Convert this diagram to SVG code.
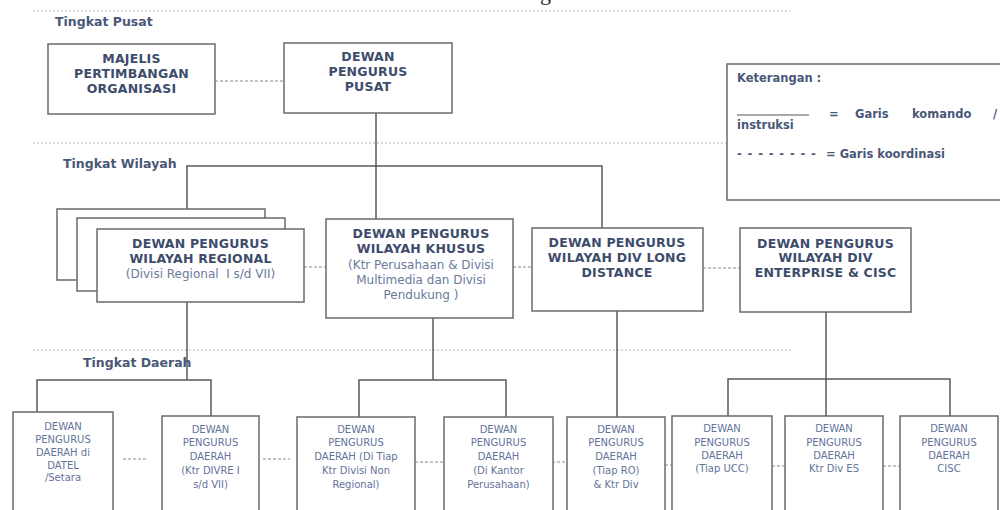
<svg xmlns="http://www.w3.org/2000/svg" width="1000" height="510" viewBox="0 0 1000 510">
<style>
.bg{fill:#ffffff}
.box{fill:#ffffff;stroke:#6a6a6a;stroke-width:1.5}
.sep{fill:none;stroke:#b4b4b4;stroke-width:1;stroke-dasharray:2 2}
.cmd{fill:none;stroke:#5a5a5a;stroke-width:1.5}
.crd{fill:none;stroke:#8a8a8a;stroke-width:1.2;stroke-dasharray:3 2}
.h{font-family:"DejaVu Sans",Verdana,sans-serif;font-weight:bold;font-size:12.5px;fill:#3e4c6c;text-anchor:middle;letter-spacing:0.2px}
.lvl{font-family:"DejaVu Sans",Verdana,sans-serif;font-weight:bold;font-size:12.5px;fill:#4a5878}
.r{font-family:"DejaVu Sans",Verdana,sans-serif;font-size:12px;fill:#6b7a9c;text-anchor:middle}
.s{font-family:"DejaVu Sans",Verdana,sans-serif;font-size:10px;fill:#63739a;text-anchor:middle}
.lg{font-family:"DejaVu Sans",Verdana,sans-serif;font-weight:bold;font-size:11.5px;fill:#4a5878}
</style>
<rect class="bg" x="0" y="0" width="1000" height="510"/>
<text x="540" y="0" font-family="Liberation Serif,serif" font-size="22" fill="#222">g</text>

<g id="separators">
<line class="sep" x1="33" y1="11" x2="790" y2="11"/>
<line class="sep" x1="33" y1="143" x2="727" y2="143"/>
<line class="sep" x1="33" y1="350" x2="792" y2="350"/>
</g>
<g id="level-labels">
<text class="lvl" x="55" y="26">Tingkat Pusat</text>
<text class="lvl" x="63" y="168">Tingkat Wilayah</text>
<text class="lvl" x="83" y="367">Tingkat Daerah</text>
</g>

<g id="connectors">
<line class="crd" x1="215" y1="81" x2="284" y2="81"/>
<polyline class="cmd" points="376,113 376,219"/>
<polyline class="cmd" points="187,209 187,166 602,166 602,228"/>
<line class="cmd" x1="187" y1="302" x2="187" y2="380"/>
<polyline class="cmd" points="37,412 37,380 211,380 211,416"/>
<line class="cmd" x1="433" y1="318" x2="433" y2="380"/>
<polyline class="cmd" points="359,417 359,380 506,380 506,417"/>
<line class="cmd" x1="617" y1="311" x2="617" y2="417"/>
<line class="cmd" x1="826" y1="312" x2="826" y2="416"/>
<polyline class="cmd" points="728,416 728,379 950,379 950,416"/>
<line class="crd" x1="304" y1="267" x2="326" y2="267"/>
<line class="crd" x1="513" y1="267" x2="532" y2="267"/>
<line class="crd" x1="703" y1="268" x2="740" y2="268"/>
<line class="crd" x1="123" y1="459" x2="148" y2="459"/>
<line class="crd" x1="263" y1="459" x2="290" y2="459"/>
<line class="crd" x1="415" y1="462" x2="444" y2="462"/>
<line class="crd" x1="547" y1="462" x2="567" y2="462"/>
<line class="crd" x1="655" y1="465" x2="672" y2="465"/>
<line class="crd" x1="772" y1="466" x2="785" y2="466"/>
<line class="crd" x1="883" y1="466" x2="900" y2="466"/>
</g>

<g id="mpo">
<rect class="box" x="48" y="44" width="167" height="70"/>
<text class="h" x="131.5" y="62.5">MAJELIS</text>
<text class="h" x="131.5" y="77.5">PERTIMBANGAN</text>
<text class="h" x="131.5" y="92.5">ORGANISASI</text>
</g>
<g id="dpp">
<rect class="box" x="284" y="43" width="168" height="70"/>
<text class="h" x="368" y="60.5">DEWAN</text>
<text class="h" x="368" y="75.5">PENGURUS</text>
<text class="h" x="368" y="90.5">PUSAT</text>
</g>

<g id="legend">
<rect class="box" x="727" y="64" width="290" height="136"/>
<text class="lg" x="737" y="82">Keterangan :</text>
<line x1="737" y1="115" x2="809" y2="115" stroke="#555" stroke-width="1.2"/>
<text class="lg" x="829" y="118">=</text>
<text class="lg" x="855" y="118">Garis</text>
<text class="lg" x="912" y="118">komando</text>
<text class="lg" x="993" y="118">/</text>
<text class="lg" x="737" y="129">instruksi</text>
<text class="lg" x="737" y="158" letter-spacing="0.9">- - - - - - - -</text>
<text class="lg" x="826" y="158">= Garis koordinasi</text>
</g>

<g id="dpw-regional">
<rect class="box" x="57" y="209" width="208" height="71"/>
<rect class="box" x="77" y="218" width="208" height="73"/>
<rect class="box" x="97" y="229" width="207" height="73"/>
<text class="h" x="200.5" y="247.5">DEWAN PENGURUS</text>
<text class="h" x="200.5" y="262.5">WILAYAH REGIONAL</text>
<text class="r" x="200.5" y="277.5" xml:space="preserve">(Divisi Regional  I s/d VII)</text>
</g>
<g id="dpw-khusus">
<rect class="box" x="326" y="219" width="187" height="99"/>
<text class="h" x="421" y="237.5">DEWAN PENGURUS</text>
<text class="h" x="421" y="252.5">WILAYAH KHUSUS</text>
<text class="r" x="421" y="269">(Ktr Perusahaan &amp; Divisi</text>
<text class="r" x="421" y="284">Multimedia dan Divisi</text>
<text class="r" x="421" y="299">Pendukung )</text>
</g>
<g id="dpw-ld">
<rect class="box" x="532" y="228" width="171" height="83"/>
<text class="h" x="617" y="246.5">DEWAN PENGURUS</text>
<text class="h" x="617" y="261.5">WILAYAH DIV LONG</text>
<text class="h" x="617" y="276.5">DISTANCE</text>
</g>
<g id="dpw-ent">
<rect class="box" x="740" y="228" width="171" height="84"/>
<text class="h" x="825.5" y="247.5">DEWAN PENGURUS</text>
<text class="h" x="825.5" y="261.5">WILAYAH DIV</text>
<text class="h" x="825.5" y="276.5">ENTERPRISE &amp; CISC</text>
</g>

<g id="dpd-datel">
<rect class="box" x="13" y="412" width="100" height="110"/>
<text class="s" x="63" y="429.5">DEWAN</text>
<text class="s" x="63" y="442.5">PENGURUS</text>
<text class="s" x="63" y="455.5">DAERAH di</text>
<text class="s" x="63" y="468.5">DATEL</text>
<text class="s" x="63" y="481">/Setara</text>
</g>
<g id="dpd-divre">
<rect class="box" x="162" y="416" width="97" height="106"/>
<text class="s" x="210.5" y="432.5">DEWAN</text>
<text class="s" x="210.5" y="446">PENGURUS</text>
<text class="s" x="210.5" y="460">DAERAH</text>
<text class="s" x="210.5" y="474">(Ktr DIVRE I</text>
<text class="s" x="210.5" y="487.5">s/d VII)</text>
</g>
<g id="dpd-nonreg">
<rect class="box" x="297" y="417" width="118" height="105"/>
<text class="s" x="356" y="432.5">DEWAN</text>
<text class="s" x="356" y="446">PENGURUS</text>
<text class="s" x="356" y="460">DAERAH (Di Tiap</text>
<text class="s" x="356" y="474">Ktr Divisi Non</text>
<text class="s" x="356" y="487.5">Regional)</text>
</g>
<g id="dpd-kantor">
<rect class="box" x="444" y="417" width="109" height="105"/>
<text class="s" x="498.5" y="432.5">DEWAN</text>
<text class="s" x="498.5" y="446">PENGURUS</text>
<text class="s" x="498.5" y="460">DAERAH</text>
<text class="s" x="498.5" y="474">(Di Kantor</text>
<text class="s" x="498.5" y="487.5">Perusahaan)</text>
</g>
<g id="dpd-ro">
<rect class="box" x="567" y="417" width="98" height="105"/>
<text class="s" x="616" y="432.5">DEWAN</text>
<text class="s" x="616" y="446">PENGURUS</text>
<text class="s" x="616" y="460">DAERAH</text>
<text class="s" x="616" y="474">(Tiap RO)</text>
<text class="s" x="616" y="487.5">&amp; Ktr Div</text>
</g>
<g id="dpd-ucc">
<rect class="box" x="672" y="416" width="100" height="106"/>
<text class="s" x="722" y="431.5">DEWAN</text>
<text class="s" x="722" y="445.5">PENGURUS</text>
<text class="s" x="722" y="458.5">DAERAH</text>
<text class="s" x="722" y="472">(Tiap UCC)</text>
</g>
<g id="dpd-es">
<rect class="box" x="785" y="416" width="98" height="106"/>
<text class="s" x="834" y="431.5">DEWAN</text>
<text class="s" x="834" y="445.5">PENGURUS</text>
<text class="s" x="834" y="458.5">DAERAH</text>
<text class="s" x="834" y="472">Ktr Div ES</text>
</g>
<g id="dpd-cisc">
<rect class="box" x="900" y="416" width="98" height="106"/>
<text class="s" x="949" y="431.5">DEWAN</text>
<text class="s" x="949" y="445.5">PENGURUS</text>
<text class="s" x="949" y="458.5">DAERAH</text>
<text class="s" x="949" y="472">CISC</text>
</g>
</svg>
